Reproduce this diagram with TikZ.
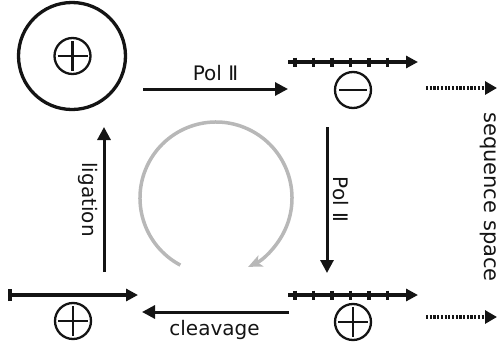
\documentclass[tikz,border=0pt]{standalone}
\usepackage{fontspec}
\setmainfont{DejaVu Sans}
\usetikzlibrary{arrows.meta}
\definecolor{ink}{HTML}{141414}
\definecolor{cyclegray}{HTML}{B8B8B8}
\begin{document}
\begin{tikzpicture}[x=1pt,y=-1pt,
  ring/.style={circle, draw=ink, line width=2.3pt, minimum size=36pt, inner sep=0pt},
  plusmark/.style={ring, path picture={
      \draw[ink, line width=2.5pt]
        ([xshift=3pt]path picture bounding box.west) -- ([xshift=-3pt]path picture bounding box.east);
      \draw[ink, line width=2.5pt]
        ([yshift=-3pt]path picture bounding box.north) -- ([yshift=3pt]path picture bounding box.south);}},
  minusmark/.style={ring, path picture={
      \draw[ink, line width=2.8pt]
        ([xshift=4pt]path picture bounding box.west) -- ([xshift=-4pt]path picture bounding box.east);}},
  dna/.style={ink, line width=4.2pt, -{Triangle[length=12pt,width=12pt]}},
  tick/.style={ink, line width=3.3pt},
  process/.style={ink, line width=3pt, -{Triangle[length=13pt,width=13pt]}},
  dots/.style={ink, line width=3.3pt, dash pattern=on 2.2pt off 1.5pt, -{Triangle[length=12pt,width=13pt]}},
  lbl/.style={font=\fontsize{20}{24}\selectfont, text=ink, inner sep=0pt}]
\useasboundingbox (0,0) rectangle (499,346);

% circular molecule (top left)
\node[ring, line width=3.3pt, minimum size=107pt] (ring) at (72,56) {};
\node[plusmark] (ringplus) at (72.5,56) {};

% linear strands with their strand signs
\node[minusmark] (topminus) at (353,90) {};
\node[plusmark] (botplus) at (353,322) {};
\node[plusmark] (leftplus) at (73,321) {};

\coordinate (topdna-s) at (288,62);
\coordinate (topdna-e) at (418,62);
\coordinate (botdna-s) at (288,295);
\coordinate (botdna-e) at (418,295);
\coordinate (lindna-s) at (8,295);
\coordinate (lindna-e) at (138,295);

\draw[dna] (topdna-s) -- (topdna-e);
\draw[dna] (botdna-s) -- (botdna-e);
\draw[dna, {Bar[width=12pt,line width=3.8pt]}-{Triangle[length=12pt,width=12pt]}] (lindna-s) -- (lindna-e);
\foreach \x in {295,313.5,332,350.5,369,387.5} {
  \draw[tick] (\x,57.5) -- (\x,66.5);
  \draw[tick] (\x,290.5) -- (\x,299.5);
}

% reaction steps
\coordinate (polh-s) at (143,89);
\coordinate (polh-e) at (288,89);
\coordinate (polv-s) at (327,127);
\coordinate (polv-e) at (327,273);
\coordinate (clv-s) at (289,312);
\coordinate (clv-e) at (142,312);
\coordinate (lig-s) at (104,272);
\coordinate (lig-e) at (104,127);

\draw[process] (polh-s) -- (polh-e) node[lbl, midway, anchor=base, yshift=9pt] (polhlabel) {Pol Ⅱ};
\draw[process] (polv-s) -- (polv-e);
\draw[process] (clv-s) -- (clv-e);
\draw[process] (lig-s) -- (lig-e);

\node[lbl, rotate=-90, anchor=base] (polvlabel) at (333,199.5) {Pol Ⅱ};
\node[lbl, anchor=base] (clvlabel) at (214.5,335) {cleavage};
\node[lbl, rotate=-90, anchor=base] (liglabel) at (82,199.5) {ligation};

% cycle indicator
\coordinate (cyc) at (216,198);
\draw[cyclegray, line width=3.5pt, -{Stealth[length=14pt,width=12pt,inset=3.5pt]}]
  (cyc) ++(118:76) arc[start angle=118, end angle=425, radius=76];

% moves in sequence space
\coordinate (sq1-s) at (426,88);
\coordinate (sq1-e) at (497,88);
\coordinate (sq2-s) at (426,317);
\coordinate (sq2-e) at (497,317);
\draw[dots] (sq1-s) -- (sq1-e);
\draw[dots] (sq2-s) -- (sq2-e);
\node[lbl, rotate=-90, anchor=base, font=\fontsize{21}{25}\selectfont] (seqlabel) at (484,197) {sequence space};
\end{tikzpicture}
\end{document}
